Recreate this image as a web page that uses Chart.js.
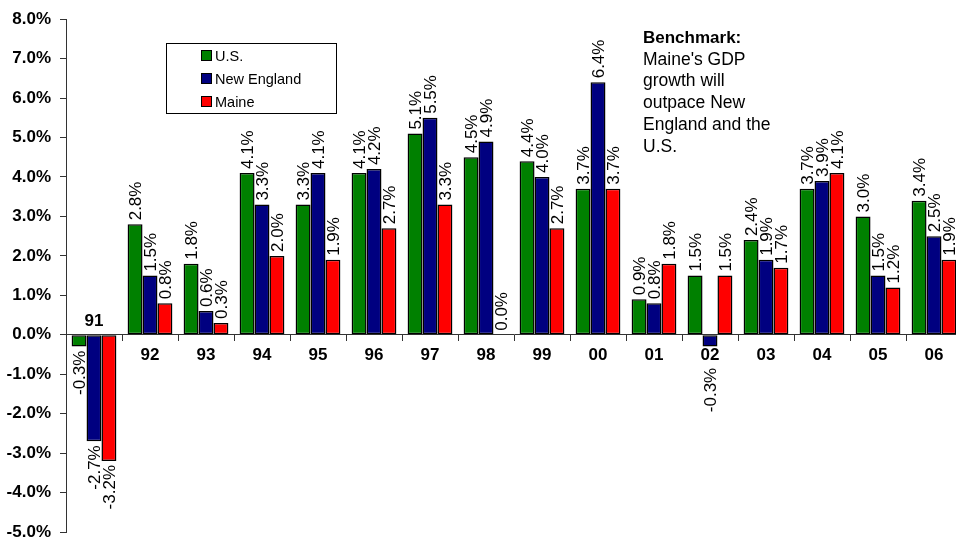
<!DOCTYPE html>
<html>
<head>
<meta charset="utf-8">
<script src="https://cdn.jsdelivr.net/npm/chart.js@4.4.1/dist/chart.umd.min.js"></script>
<style>
  html, body { margin: 0; padding: 0; background: #fff; overflow: hidden; }
  #wrap { width: 980px; height: 560px; }
</style>
</head>
<body>
<div id="wrap"><canvas id="gdp" width="980" height="560"></canvas></div>
<script>
// Annual real GDP growth, percent
const years = ['91', '92', '93', '94', '95', '96', '97', '98', '99', '00', '01', '02', '03', '04', '05', '06'];
const usGrowth =          [-0.3, 2.8, 1.8, 4.1, 3.3, 4.1, 5.1, 4.5, 4.4, 3.7, 0.9, 1.5, 2.4, 3.7, 3.0, 3.4];
const newEnglandGrowth =  [-2.7, 1.5, 0.6, 3.3, 4.1, 4.2, 5.5, 4.9, 4.0, 6.4, 0.8, -0.3, 1.9, 3.9, 1.5, 2.5];
const maineGrowth =       [-3.2, 0.8, 0.3, 2.0, 1.9, 2.7, 3.3, 0.0, 2.7, 3.7, 1.8, 1.5, 1.7, 4.1, 1.2, 1.9];
const seriesNames = ['U.S.', 'New England', 'Maine'];
const seriesColors = ['#008000', '#000080', '#FF0000'];
const yRange = { min: -5, max: 8, step: 1 };
const benchmarkTitle = 'Benchmark:';
const benchmarkLines = ["Maine's GDP", 'growth will', 'outpace New', 'England and the', 'U.S.'];

const FONT = "'Liberation Sans', Arial, Helvetica, sans-serif";

// a year label sits above the zero line only when every bar in that year is negative
const yearLabelAbove = i => [usGrowth, newEnglandGrowth, maineGrowth].every(s => s[i] < 0);

const annotations = {
  id: 'annotations',
  afterDatasetsDraw(chart) {
    const ctx = chart.ctx;
    const yScale = chart.scales.y;
    const xScale = chart.scales.x;
    const zeroY = yScale.getPixelForValue(0);

    // rotated value labels at the end of each bar
    ctx.save();
    ctx.fillStyle = '#000';
    ctx.font = '17px ' + FONT;
    ctx.textBaseline = 'middle';
    chart.data.datasets.forEach((ds, di) => {
      const meta = chart.getDatasetMeta(di);
      meta.data.forEach((bar, i) => {
        const v = ds.data[i];
        const txt = v.toFixed(1) + '%';
        ctx.save();
        if (v >= 0) {
          ctx.translate(bar.x, bar.y - 4);
          ctx.rotate(-Math.PI / 2);
          ctx.textAlign = 'left';
        } else {
          // keep clear of a year label printed below the zero line
          const y = yearLabelAbove(i) ? bar.y + 4 : Math.max(bar.y + 4, zeroY + 33);
          ctx.translate(bar.x, y);
          ctx.rotate(-Math.PI / 2);
          ctx.textAlign = 'right';
        }
        ctx.fillText(txt, 0, 1);
        ctx.restore();
      });
    });
    ctx.restore();

    // year labels beside the zero line
    ctx.save();
    ctx.fillStyle = '#000';
    ctx.font = 'bold 17px ' + FONT;
    ctx.textAlign = 'center';
    ctx.textBaseline = 'middle';
    years.forEach((yr, i) => {
      const x = xScale.getPixelForValue(i);
      ctx.fillText(yr, x, yearLabelAbove(i) ? zeroY - 13 : zeroY + 21);
    });
    ctx.restore();

    // legend box
    ctx.save();
    ctx.fillStyle = '#fff';
    ctx.fillRect(166.5, 43.5, 170, 70);
    ctx.strokeStyle = '#000';
    ctx.lineWidth = 1;
    ctx.strokeRect(166.5, 43.5, 170, 70);
    ctx.font = '14.5px ' + FONT;
    ctx.textAlign = 'left';
    ctx.textBaseline = 'middle';
    chart.data.datasets.forEach((ds, di) => {
      const cy = 56 + di * 23;
      ctx.fillStyle = ds.backgroundColor;
      ctx.fillRect(201.5, cy - 5.5, 10, 10);
      ctx.strokeStyle = '#000';
      ctx.strokeRect(201.5, cy - 5.5, 10, 10);
      ctx.fillStyle = '#000';
      ctx.fillText(ds.label, 215, cy + 1);
    });
    ctx.restore();

    // benchmark note
    ctx.save();
    ctx.fillStyle = '#000';
    ctx.textAlign = 'left';
    ctx.textBaseline = 'middle';
    ctx.font = 'bold 17px ' + FONT;
    ctx.fillText(benchmarkTitle, 643, 38);
    ctx.font = '17.5px ' + FONT;
    benchmarkLines.forEach((line, i) => {
      ctx.fillText(line, 643, 38 + (i + 1) * 21.8);
    });
    ctx.restore();
  }
};

const seriesData = [usGrowth, newEnglandGrowth, maineGrowth];

new Chart(document.getElementById('gdp'), {
  type: 'bar',
  data: {
    labels: years,
    datasets: seriesNames.map((name, i) => ({
      label: name,
      data: seriesData[i],
      backgroundColor: seriesColors[i],
      borderColor: '#000',
      borderWidth: 1.5,
      borderSkipped: false,
      categoryPercentage: 0.8,
      barPercentage: 1.0
    }))
  },
  options: {
    responsive: false,
    animation: false,
    devicePixelRatio: 1,
    layout: { padding: { left: 0, top: 16, right: 18, bottom: 28 } },
    plugins: {
      legend: { display: false },
      tooltip: { enabled: false }
    },
    scales: {
      x: {
        position: { y: 0 },
        offset: true,
        grid: { offset: true, drawOnChartArea: false, drawTicks: true, tickLength: 6, color: '#333' },
        border: { display: true, color: '#333', width: 1 },
        ticks: { display: false }
      },
      y: {
        min: yRange.min,
        max: yRange.max,
        afterFit: s => { s.width = 66; },
        ticks: {
          stepSize: yRange.step,
          callback: v => v.toFixed(1) + '%',
          color: '#000',
          font: { family: FONT, size: 17, weight: 'bold' },
          padding: 9
        },
        grid: { drawOnChartArea: false, tickLength: 6, color: '#333' },
        border: { display: true, color: '#333', width: 1 }
      }
    }
  },
  plugins: [annotations]
});
</script>
</body>
</html>
